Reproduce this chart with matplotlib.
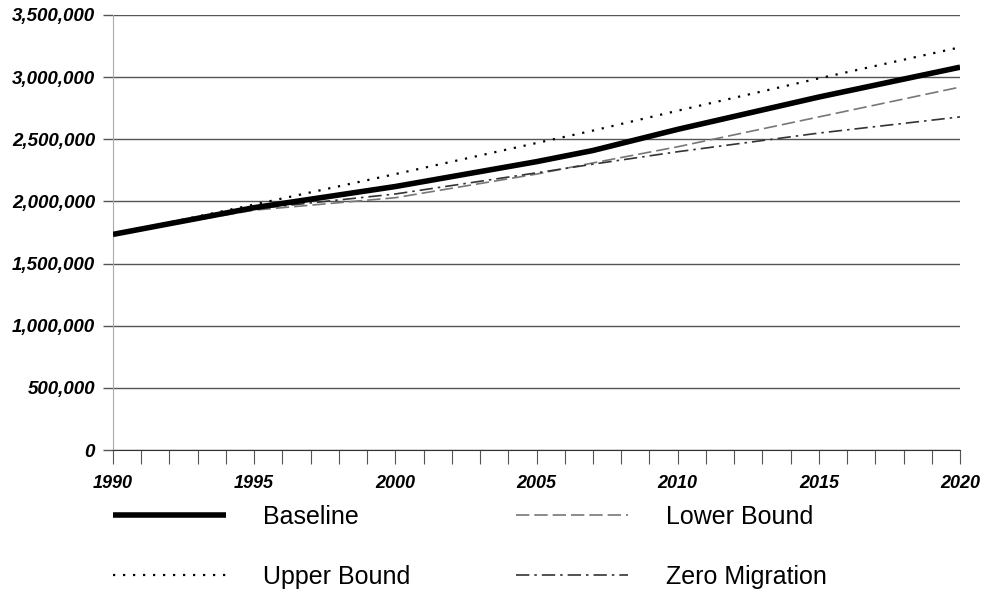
import numpy as np
import matplotlib.pyplot as plt
from matplotlib.ticker import MultipleLocator

plt.rcParams['font.family'] = ['Liberation Sans', 'DejaVu Sans']

# population projections
years = [1990, 1995, 2000, 2005, 2007, 2010, 2015, 2020]
baseline = [1735000, 1950000, 2120000, 2320000, 2410000, 2580000, 2840000, 3080000]
upper = [1735000, 1975000, 2220000, 2470000, 2570000, 2730000, 2990000, 3240000]
lower = [1735000, 1930000, 2030000, 2220000, 2310000, 2440000, 2680000, 2920000]
zero_mig = [1735000, 1940000, 2060000, 2230000, 2300000, 2400000, 2550000, 2680000]

xticks = [1990, 1995, 2000, 2005, 2010, 2015, 2020]
yticks = [0, 500000, 1000000, 1500000, 2000000, 2500000, 3000000, 3500000]

fig = plt.figure(figsize=(9.85, 6.14), dpi=100)
ax = fig.add_axes([0.1147, 0.267, 0.86, 0.7086])

ax.plot(years, baseline, color='black', lw=4, solid_capstyle='butt', label='Baseline', zorder=5)
ax.plot(years, upper, color='black', lw=1.6, linestyle=(0, (1, 3.5)), label='Upper Bound', zorder=4)
ax.plot(years, lower, color='#777777', lw=1.2, linestyle=(0, (8, 3)), label='Lower Bound', zorder=3)
ax.plot(years, zero_mig, color='#333333', lw=1.2, linestyle=(0, (8, 3, 1.5, 3)), label='Zero Migration', zorder=3)

ax.set_xlim(1990, 2020)
ax.set_ylim(0, 3500000)
ax.set_xticks(xticks, [str(x) for x in xticks], fontsize=13, fontstyle='italic', fontweight='bold')
ax.set_yticks(yticks, [f'{y:,}' for y in yticks], fontsize=13.5, fontstyle='italic', fontweight='bold')
ax.xaxis.set_minor_locator(MultipleLocator(1))

ax.grid(axis='y', color='#555555', lw=1)
ax.set_axisbelow(True)
for s in ['top', 'right']:
    ax.spines[s].set_visible(False)
ax.spines['left'].set_color('#aaaaaa')
ax.spines['left'].set_linewidth(0.8)
ax.spines['bottom'].set_color('#333333')

ax.tick_params(axis='y', length=7, width=1, color='#555555', pad=6)
ax.tick_params(axis='x', which='both', length=10, width=0.8, color='#555555', pad=8)

fig.legend(handles=ax.get_lines(), labels=['Baseline', 'Upper Bound', 'Lower Bound', 'Zero Migration'],
           loc='upper left', bbox_to_anchor=(0.115, 0.178), ncol=2, frameon=False,
           fontsize=18, handlelength=4.5, handletextpad=1.5, columnspacing=4.2,
           labelspacing=1.45, borderpad=0, borderaxespad=0)

fig.savefig('out.png', dpi=100)
